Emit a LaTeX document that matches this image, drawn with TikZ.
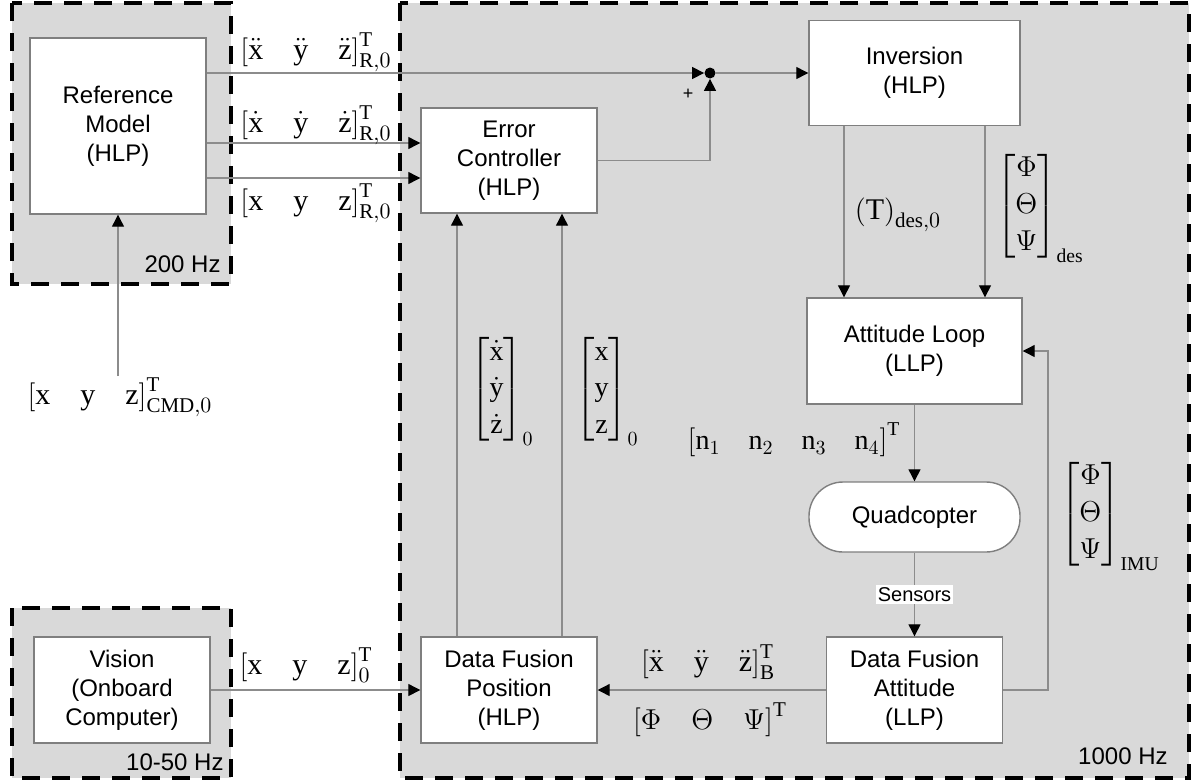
\documentclass[tikz,border=0pt]{standalone}
\usepackage{amsmath}
\usepackage{fontspec}
\setmainfont{Liberation Sans}
\setmathrm{Liberation Serif}
\usetikzlibrary{arrows.meta,calc,positioning,shapes.geometric}
\definecolor{grp-fill}{HTML}{D9D9D9}
\definecolor{box-line}{HTML}{7F7F7F}
\definecolor{sig-line}{HTML}{8C8C8C}
\newcommand{\rv}[1]{\mathrm{#1}}

\begin{document}
\begin{tikzpicture}[x=0.5pt,y=-0.5pt,
  >={Triangle[length=6pt,width=6pt,color=black]},
  grp/.style={draw=black,fill=grp-fill,line width=1.6pt,dash pattern=on 9pt off 6pt},
  blok/.style={draw=box-line,fill=white,line width=0.7pt,align=center,
    font=\fontsize{12}{14.5}\selectfont,inner sep=2pt},
  sig/.style={draw=sig-line,line width=0.6pt,->},
  lbl/.style={font=\fontsize{14}{16}\selectfont,inner sep=0pt},
  rlbl/.style={font=\fontsize{15}{17}\selectfont,inner sep=0pt},
  hz/.style={font=\fontsize{12}{14}\selectfont,inner sep=0pt,anchor=base east}]
  \useasboundingbox (0,0) rectangle (1192,782);

  % Takt-grupper
  \draw[grp] (12,3) rectangle (231,284);
  \draw[grp] (400,3) rectangle (1189,778);
  \draw[grp] (12,608) rectangle (231,778);
  \node[hz] (hzref) at (221,272) {200 Hz};
  \node[hz] (hzvis) at (224,770) {10-50 Hz};
  \node[hz] (hzmain) at (1168,764) {1000 Hz};

  % Blokke
  \node[blok,minimum width=88pt,minimum height=88pt] (ref) at (118,126) {Reference\\Model\\(HLP)};
  \node[blok,minimum width=88pt,minimum height=52.5pt] (err) at (509,160.5) {Error\\Controller\\(HLP)};
  \node[blok,minimum width=105.5pt,minimum height=52.5pt] (inv) at (914.5,73) {Inversion\\(HLP)};
  \node[blok,minimum width=107.5pt,minimum height=53pt] (att) at (914.5,351) {Attitude Loop\\(LLP)};
  \node[blok,rounded corners=17pt,minimum width=105.5pt,minimum height=35pt] (quad) at (914.5,517) {Quadcopter};
  \node[blok,minimum width=88pt,minimum height=53pt] (dfa) at (914.5,690) {Data Fusion\\Attitude\\(LLP)};
  \node[blok,minimum width=88pt,minimum height=53pt] (dfp) at (509,690) {Data Fusion\\Position\\(HLP)};
  \node[blok,minimum width=88pt,minimum height=53pt] (vis) at (122,690) {Vision\\(Onboard\\Computer)};
  \node[circle,fill=black,inner sep=0pt,minimum size=5.5pt] (sum) at (710,73) {};
  \node[font=\fontsize{9}{10}\selectfont,inner sep=0pt] (plus) at (688,94) {+};

  % Forbindelser
  \coordinate (e1) at ([yshift=8.75pt]err.west);
  \coordinate (e2) at ([yshift=-8.75pt]err.west);
  \coordinate (fb) at (1048,351);
  \coordinate (cmd) at (118,376);
  \draw[sig] (ref.east |- sum) -- (sum.west);
  \draw[sig] (sum.east) -- (inv.west);
  \draw[sig] (e1 -| ref.east) -- (e1);
  \draw[sig] (e2 -| ref.east) -- (e2);
  \draw[sig] (err.east) -| (sum.south);
  \draw[sig] ([xshift=-35.25pt]inv.south) -- ([xshift=-35.25pt]att.north);
  \draw[sig] ([xshift=35.25pt]inv.south) -- ([xshift=35.25pt]att.north);
  \draw[sig] (att) -- (quad);
  \draw[sig] (quad) -- node[fill=white,inner sep=1pt,font=\fontsize{10}{12}\selectfont] (sens) {Sensors} (dfa);
  \draw[sig] (dfa.east) -| (fb) -- (att.east);
  \draw[sig] (dfa.west) -- (dfp.east);
  \draw[sig] (vis.east) -- (dfp.west);
  \draw[sig] ([xshift=-26pt]dfp.north) -- ([xshift=-26pt]err.south);
  \draw[sig] ([xshift=26.5pt]dfp.north) -- ([xshift=26.5pt]err.south);
  \draw[sig] (cmd) -- (ref.south);

  % Signal-labels
  \node[rlbl] (accR) at (316,52) {$\left[\ddot{\rv{x}}\quad\ddot{\rv{y}}\quad\ddot{\rv{z}}\right]^{\rv{T}}_{\rv{R},0}$};
  \node[rlbl] (velR) at (316,125) {$\left[\dot{\rv{x}}\quad\dot{\rv{y}}\quad\dot{\rv{z}}\right]^{\rv{T}}_{\rv{R},0}$};
  \node[rlbl] (posR) at (316,203) {$\left[\rv{x}\quad\rv{y}\quad\rv{z}\right]^{\rv{T}}_{\rv{R},0}$};
  \node[rlbl] (cmdlbl) at (120,397) {$\left[\rv{x}\quad\rv{y}\quad\rv{z}\right]^{\rv{T}}_{\rv{CMD},0}$};
  \node[rlbl] (posV) at (306,665) {$\left[\rv{x}\quad\rv{y}\quad\rv{z}\right]^{\rv{T}}_{0}$};
  \node[rlbl] (thr) at (898,215) {$\left(\rv{T}\right)_{\rv{des},0}$};
  \node[lbl] (angDes) at (1040,207) {$\renewcommand{\arraystretch}{1.15}\begin{bmatrix}\Phi\\\Theta\\\Psi\end{bmatrix}_{\rv{des}}$};
  \node[lbl] (vel0) at (502,390) {$\renewcommand{\arraystretch}{1.15}\begin{bmatrix}\dot{\rv{x}}\\\dot{\rv{y}}\\\dot{\rv{z}}\end{bmatrix}_0$};
  \node[lbl] (pos0) at (607,390) {$\renewcommand{\arraystretch}{1.15}\begin{bmatrix}\rv{x}\\\rv{y}\\\rv{z}\end{bmatrix}_0$};
  \node[lbl] (nvec) at (794,440) {$\left[\rv{n}_1\quad\rv{n}_2\quad\rv{n}_3\quad\rv{n}_4\right]^{\rv{T}}$};
  \node[rlbl] (accB) at (708,662) {$\left[\ddot{\rv{x}}\quad\ddot{\rv{y}}\quad\ddot{\rv{z}}\right]^{\rv{T}}_{\rv{B}}$};
  \node[rlbl] (angT) at (710,720) {$\left[\Phi\quad\Theta\quad\Psi\right]^{\rv{T}}$};
  \node[lbl] (angIMU) at (1110,515) {$\renewcommand{\arraystretch}{1.15}\begin{bmatrix}\Phi\\\Theta\\\Psi\end{bmatrix}_{\rv{IMU}}$};
\end{tikzpicture}
\end{document}
